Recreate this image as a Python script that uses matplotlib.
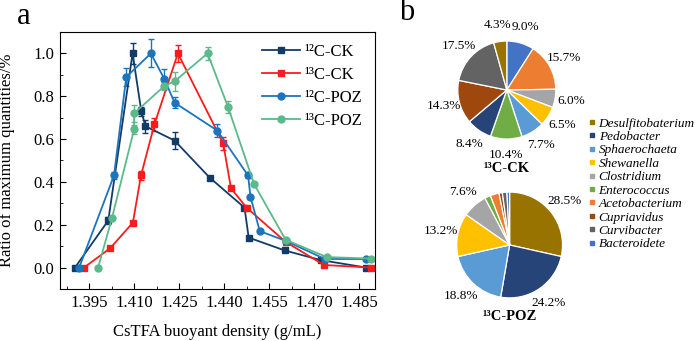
import matplotlib
matplotlib.use("Agg")
import matplotlib.pyplot as plt
from matplotlib.lines import Line2D
from matplotlib.ticker import MultipleLocator

plt.rcParams["font.family"] = ["Liberation Serif", "DejaVu Serif"]

# Panel a: density gradient fractions
ck12_x = [1.3903, 1.4014, 1.4095, 1.4124, 1.4138, 1.4235, 1.4352, 1.4468, 1.4482, 1.4602, 1.4722, 1.4874]
ck12_y = [0.0, 0.22, 1.0, 0.73, 0.66, 0.593, 0.42, 0.28, 0.14, 0.08, 0.035, 0.0]
ck12_err = [0, 0.015, 0.05, 0.02, 0.03, 0.04, 0, 0, 0, 0, 0, 0]

ck13_x = [1.3933, 1.4020, 1.4096, 1.4123, 1.4168, 1.4246, 1.4397, 1.4423, 1.4475, 1.4605, 1.4733, 1.4890]
ck13_y = [0.0, 0.09, 0.21, 0.43, 0.67, 1.0, 0.58, 0.37, 0.28, 0.12, 0.012, 0.0]
ck13_err = [0, 0, 0, 0.02, 0.03, 0.04, 0.03, 0, 0, 0, 0, 0]

poz12_x = [1.3917, 1.4033, 1.4074, 1.4156, 1.4201, 1.4235, 1.4377, 1.4480, 1.4488, 1.4519, 1.4605, 1.4736, 1.4872]
poz12_y = [0.0, 0.43, 0.89, 1.0, 0.88, 0.77, 0.64, 0.43, 0.33, 0.17, 0.125, 0.04, 0.04]
poz12_err = [0, 0.015, 0.04, 0.065, 0.045, 0.025, 0.03, 0.01, 0, 0, 0, 0, 0]

poz13_x = [1.3980, 1.4026, 1.4100, 1.4100, 1.4201, 1.4235, 1.4345, 1.4413, 1.4500, 1.4605, 1.4742, 1.4891]
poz13_y = [0.0, 0.23, 0.645, 0.72, 0.848, 0.87, 1.0, 0.75, 0.39, 0.13, 0.049, 0.042]
poz13_err = [0, 0, 0.02, 0.04, 0.02, 0.045, 0.03, 0.03, 0, 0, 0, 0]

# Panel b: community composition (%)
genera = ["Desulfitobaterium", "Pedobacter", "Sphaerochaeta", "Shewanella", "Clostridium",
          "Enterococcus", "Acetobacterium", "Cupriavidus", "Curvibacter", "Bacteroidete"]
genus_colors = ["#997300", "#264478", "#5b9bd5", "#ffc000", "#a5a5a5",
                "#70ad47", "#ed7d31", "#9e480e", "#636363", "#4472c4"]
ck13_share = [4.3, 8.4, 7.7, 6.5, 6.0, 10.4, 15.7, 14.3, 17.5, 9.0]
poz13_share = [28.5, 24.2, 18.8, 13.2, 7.6, 1.8, 2.7, 1.0, 1.4, 0.8]
# clockwise order of slices from 12 o'clock
ck13_order = [9, 6, 4, 3, 2, 5, 1, 7, 8, 0]
poz13_order = [0, 1, 2, 3, 4, 5, 6, 7, 8, 9]

fig = plt.figure(figsize=(7, 3.41), dpi=100)

ax = fig.add_axes([0.0857, 0.1525, 0.45, 0.7537])
series = [
    (ck12_x, ck12_y, ck12_err, "#133b6a", "s", "¹²C-CK"),
    (ck13_x, ck13_y, ck13_err, "#f91c1c", "s", "¹³C-CK"),
    (poz12_x, poz12_y, poz12_err, "#1c75bc", "o", "¹²C-POZ"),
    (poz13_x, poz13_y, poz13_err, "#5cb98a", "o", "¹³C-POZ"),
]
for x, y, e, c, m, lab in series:
    ax.errorbar(x, y, yerr=e, color=c, marker=m, markersize=5, linewidth=1.3,
                elinewidth=1.0, capsize=2.5, capthick=1.0, label=lab)

ax.set_xlim(1.3853, 1.4903)
ax.set_ylim(-0.1, 1.1)
ax.xaxis.set_minor_locator(MultipleLocator(0.0075))
ax.yaxis.set_major_locator(MultipleLocator(0.2))
ax.yaxis.set_minor_locator(MultipleLocator(0.1))
ax.set_xticks([1.395, 1.410, 1.425, 1.440, 1.455, 1.470, 1.485])
ax.set_xticklabels(["1.395", "1.410", "1.425", "1.440", "1.455", "1.470", "1.485"])
ax.tick_params(which="both", direction="in", labelsize=12, pad=4)
ax.tick_params(which="major", length=4)
ax.tick_params(which="minor", length=2)
ax.set_xlabel("CsTFA buoyant density (g/mL)", fontsize=12)
ax.set_ylabel("Ratio of maximum quantities/%", fontsize=12)
ax.xaxis.set_label_coords(0.5, -0.135)
ax.yaxis.set_label_coords(-0.143, 0.5)

handles, labels = ax.get_legend_handles_labels()
handles = [h[0] for h in handles]
ax.legend(handles, labels, loc="upper left", bbox_to_anchor=(0.64, 0.952), frameon=False,
          fontsize=12, handlelength=2.3, handletextpad=0.3, borderpad=0,
          borderaxespad=0, labelspacing=0.42)

fig.text(24 / 700, 1 - 17 / 341, "a", fontsize=22, ha="center", va="center")
fig.text(407 / 700, 1 - 13 / 341, "b", fontsize=22, ha="center", va="center")

pies = [
    (ck13_share, ck13_order, [0.612, 0.506, 0.224, 0.46], 1.0, "¹³C-CK", 168, None),
    (poz13_share, poz13_order, [0.616, 0.0516, 0.224, 0.46], 1.08, "¹³C-POZ", 317, 5),
]
for share, order, rect, rad, title, ty, cut in pies:
    pax = fig.add_axes(rect)
    vals = [share[i] for i in order]
    cols = [genus_colors[i] for i in order]
    if cut is None:
        fmt = "%.1f%%"
    else:
        fmt = lambda p, c=cut: ("%.1f%%" % p) if p >= c else ""
    pax.pie(vals, colors=cols, startangle=90, counterclock=False, radius=rad,
            autopct=fmt, pctdistance=1.33,
            wedgeprops={"edgecolor": "white", "linewidth": 0.9},
            textprops={"fontsize": 9.5})
    pax.set_xlim(-1.6, 1.6)
    pax.set_ylim(-1.6, 1.6)
    pax.axis("off")
    fig.text(rect[0] + rect[2] / 2, 1 - ty / 341, title, fontsize=10.5, fontweight="bold",
             ha="center", va="center")

leg_handles = [Line2D([], [], marker="s", linestyle="none", markersize=2.8,
                      markerfacecolor=c, markeredgecolor=c) for c in genus_colors]
fig.legend(leg_handles, genera, loc="upper left", bbox_to_anchor=(0.842, 0.656),
           frameon=False, prop={"size": 9.5, "style": "italic"}, handlelength=0.4,
           handletextpad=0.3, borderpad=0, borderaxespad=0, labelspacing=0.09)

fig.savefig("out.png", dpi=100)
